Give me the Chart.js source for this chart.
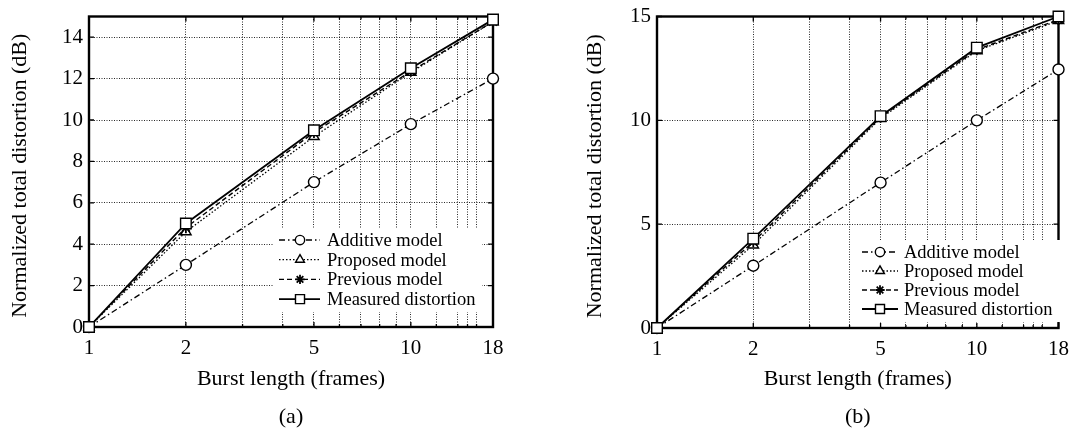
<!DOCTYPE html>
<html><head><meta charset="utf-8">
<script src="https://cdn.jsdelivr.net/npm/chart.js@4.4.0/dist/chart.umd.min.js"></script>
<style>
html,body{margin:0;padding:0;background:#fff;}
#wrap{position:relative;width:1078px;height:439px;overflow:hidden;}
.pane{position:absolute;top:0;height:439px;}
#pa{left:0;width:540px;}
#pb{left:540px;width:538px;}
</style></head><body>
<div id="wrap">
<div class="pane" id="pa"><canvas id="ca" width="540" height="439"></canvas></div>
<div class="pane" id="pb"><canvas id="cb" width="538" height="439"></canvas></div>
</div>
<script>
// ---- data ----
const burstLengths = [1, 2, 5, 10, 18];
const xTickLabels = [1, 2, 5, 10, 18];
const xGridValues = [1, 2, 3, 4, 5, 6, 7, 8, 9, 10, 12, 14, 15, 16, 18];
const seriesNames = ['Additive model', 'Proposed model', 'Previous model', 'Measured distortion'];
const additiveA = [0, 3.0, 7.0, 9.8, 12.0];
const proposedA = [0, 4.6, 9.2, 12.3, 14.75];
const previousA = [0, 4.8, 9.4, 12.35, 14.75];
const measuredA = [0, 5.0, 9.5, 12.5, 14.85];
const additiveB = [0, 3.0, 7.0, 10.0, 12.45];
const proposedB = [0, 4.0, 10.1, 13.35, 14.8];
const previousB = [0, 4.15, 10.15, 13.4, 14.85];
const measuredB = [0, 4.3, 10.2, 13.5, 15.0];
const yTicksA = [0, 2, 4, 6, 8, 10, 12, 14];
const yTicksB = [0, 5, 10, 15];
const yMin = 0, yMax = 15, xMin = 1, xMax = 18;
const xTitle = 'Burst length (frames)';
const yTitle = 'Normalized total distortion (dB)';

// ---- styles ----
const FONT = "'Liberation Serif', 'Times New Roman', serif";
const seriesStyles = [
  {borderDash: [6, 3, 1.5, 3], pointStyle: 'circle', pointRadius: 5.5, borderWidth: 1.3, order: 4},
  {borderDash: [1.5, 2], pointStyle: 'triangle', pointRadius: 6, borderWidth: 1.3, order: 3},
  {borderDash: [5, 3], pointStyle: 'star', pointRadius: 5.5, borderWidth: 1.4, order: 2, pointBorderWidth: 1.8},
  {borderDash: [], pointStyle: 'rect', pointRadius: 7.5, borderWidth: 1.8, order: 1}
];

function makeDataset(i, values) {
  const s = seriesStyles[i];
  return Object.assign({
    label: seriesNames[i],
    data: burstLengths.map((x, k) => ({x: x, y: values[k]})),
    borderColor: '#000',
    backgroundColor: '#fff',
    pointBorderColor: '#000',
    pointBackgroundColor: '#fff',
    pointBorderWidth: 1.4,
    pointHoverRadius: s.pointRadius,
    tension: 0,
    clip: false,
    fill: false
  }, s);
}

const framePlugin = {
  id: 'frame',
  beforeDatasetsDraw(chart) {
    const ctx = chart.ctx, a = chart.chartArea;
    const xs = chart.scales.x, ys = chart.scales.y;
    ctx.save();
    ctx.strokeStyle = '#000';
    ctx.lineWidth = 1.3;
    ctx.setLineDash([]);
    ctx.beginPath();
    xGridValues.forEach(v => {
      const px = xs.getPixelForValue(v);
      const len = xTickLabels.includes(v) ? 5 : 3;
      ctx.moveTo(px, a.bottom); ctx.lineTo(px, a.bottom - len);
      ctx.moveTo(px, a.top); ctx.lineTo(px, a.top + len);
    });
    ys.ticks.forEach(t => {
      const py = ys.getPixelForValue(t.value);
      ctx.moveTo(a.left, py); ctx.lineTo(a.left + 5, py);
      ctx.moveTo(a.right, py); ctx.lineTo(a.right - 5, py);
    });
    ctx.stroke();
    ctx.lineWidth = 2.4;
    ctx.strokeRect(a.left, a.top, a.right - a.left, a.bottom - a.top);
    ctx.restore();
  }
};

function drawMarker(ctx, style, radius, x, y, bw) {
  const opts = {pointStyle: style, radius: radius, rotation: 0, borderWidth: bw};
  if (Chart.helpers && Chart.helpers.drawPoint) {
    Chart.helpers.drawPoint(ctx, opts, x, y);
  }
}

const legendPlugin = {
  id: 'paperLegend',
  afterDatasetsDraw(chart, args, o) {
    const ctx = chart.ctx;
    ctx.save();
    ctx.fillStyle = '#fff';
    ctx.fillRect(o.box[0], o.box[1], o.box[2] - o.box[0], o.box[3] - o.box[1]);
    ctx.font = o.fontSize + 'px ' + FONT;
    ctx.textBaseline = 'middle';
    ctx.textAlign = 'left';
    chart.data.datasets.forEach((ds, i) => {
      const y = o.y0 + i * o.dy;
      ctx.strokeStyle = '#000';
      ctx.lineWidth = ds.borderWidth;
      ctx.setLineDash(ds.borderDash || []);
      ctx.beginPath();
      ctx.moveTo(o.x0, y); ctx.lineTo(o.x1, y);
      ctx.stroke();
      ctx.setLineDash([]);
      ctx.fillStyle = '#fff';
      ctx.lineWidth = ds.pointBorderWidth;
      drawMarker(ctx, ds.pointStyle, ds.pointRadius * 0.85, o.mx, y, ds.pointBorderWidth);
      ctx.fillStyle = '#000';
      ctx.fillText(ds.label, o.tx, y + 1);
    });
    ctx.restore();
  }
};

const textPlugin = {
  id: 'paperText',
  afterDraw(chart, args, o) {
    const ctx = chart.ctx, a = chart.chartArea;
    ctx.save();
    ctx.fillStyle = '#000';
    ctx.font = o.fontSize + 'px ' + FONT;
    ctx.textAlign = 'center';
    ctx.textBaseline = 'middle';
    const cx = (a.left + a.right) / 2;
    ctx.fillText(xTitle, cx, o.xTitleY);
    ctx.fillText(o.panel, cx, o.panelY);
    ctx.translate(o.yTitleX, (a.top + a.bottom) / 2 + 4);
    ctx.rotate(-Math.PI / 2);
    ctx.fillText(yTitle, 0, 0);
    ctx.restore();
  }
};

function makeChart(id, seriesValues, yTicks, g) {
  const ctx = document.getElementById(id);
  return new Chart(ctx, {
    type: 'line',
    data: {datasets: seriesValues.map((v, i) => makeDataset(i, v))},
    options: {
      responsive: false,
      animation: false,
      events: [],
      layout: {padding: {left: 0, top: g.top, right: g.width - g.right, bottom: 0}},
      plugins: {
        legend: {display: false},
        tooltip: {enabled: false},
        paperLegend: g.legend,
        paperText: {fontSize: 22, xTitleY: 379, panelY: 417, yTitleX: g.yTitleX, panel: g.panel}
      },
      scales: {
        x: {
          type: 'logarithmic',
          min: xMin, max: xMax,
          afterBuildTicks: s => { s.ticks = xGridValues.map(v => ({value: v})); },
          afterFit: s => { s.height = 439 - g.bottom; },
          grid: {color: '#111', lineWidth: 0.9, drawTicks: false},
          border: {display: false, dash: [1, 1.5]},
          ticks: {
            autoSkip: false, maxRotation: 0, minRotation: 0, padding: 9,
            color: '#000', font: {family: FONT, size: 21},
            callback: v => xTickLabels.includes(v) ? String(v) : ''
          }
        },
        y: {
          type: 'linear',
          min: yMin, max: yMax,
          afterBuildTicks: s => { s.ticks = yTicks.map(v => ({value: v})); },
          afterFit: s => { s.width = g.left; },
          grid: {color: '#111', lineWidth: 0.9, drawTicks: false},
          border: {display: false, dash: [1, 1.5]},
          ticks: {
            padding: 6, color: '#000', font: {family: FONT, size: 21, lineHeight: 1},
            callback: v => String(v)
          }
        }
      }
    },
    plugins: [framePlugin, legendPlugin, textPlugin]
  });
}

makeChart('ca', [additiveA, proposedA, previousA, measuredA], yTicksA, {
  width: 540, left: 89, right: 493, top: 12, bottom: 327, yTitleX: 20, panel: '(a)',
  legend: {box: [274, 229, 482, 312], x0: 279, x1: 320, mx: 300, tx: 327, y0: 240, dy: 19.7, fontSize: 18.5}
});
makeChart('cb', [additiveB, proposedB, previousB, measuredB], yTicksB, {
  width: 538, left: 117, right: 523, top: 10, bottom: 328, yTitleX: 55, panel: '(b)',
  legend: {box: [318, 240, 520, 322], x0: 322, x1: 358, mx: 340, tx: 364, y0: 252, dy: 19, fontSize: 18.5}
});
</script>
</body></html>
